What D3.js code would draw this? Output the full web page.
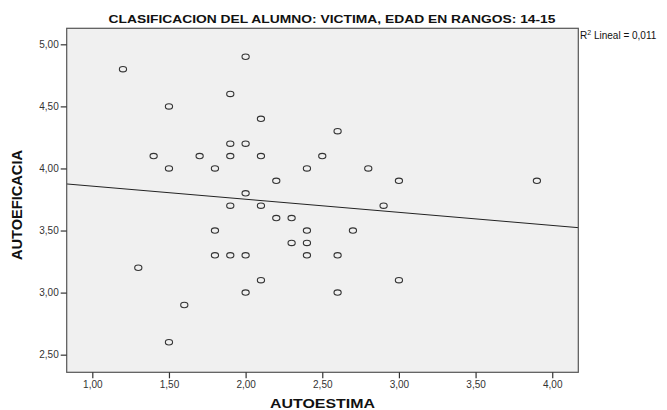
<!DOCTYPE html>
<html><head><meta charset="utf-8">
<script src="https://cdn.jsdelivr.net/npm/d3@7"></script>
<style>
html,body{margin:0;padding:0;background:#fff;}
text{font-family:"Liberation Sans",Arial,sans-serif;}
</style></head>
<body><svg id="c" width="667" height="410"></svg>
<script>
const autoestima = [1.2,2.0,1.9,1.5,2.1,2.6,1.9,2.0,1.4,1.7,1.9,2.1,2.5,1.5,1.8,2.4,2.8,2.2,3.0,3.9,2.0,1.9,2.1,2.9,2.2,2.3,1.8,2.4,2.7,2.3,2.4,1.8,1.9,2.0,2.4,2.6,1.3,2.1,3.0,2.0,2.6,1.6,1.5];
const autoeficacia = [4.8,4.9,4.6,4.5,4.4,4.3,4.2,4.2,4.1,4.1,4.1,4.1,4.1,4.0,4.0,4.0,4.0,3.9,3.9,3.9,3.8,3.7,3.7,3.7,3.6,3.6,3.5,3.5,3.5,3.4,3.4,3.3,3.3,3.3,3.3,3.3,3.2,3.1,3.1,3.0,3.0,2.9,2.6];
const xTicks = [1.0,1.5,2.0,2.5,3.0,3.5,4.0];
const yTicks = [2.5,3.0,3.5,4.0,4.5,5.0];
const fitLine = [3.963, -0.1055]; // intercept, slope
const xDomain = [0.833, 4.17];
const yDomain = [2.358, 5.129];
const titleText = "CLASIFICACION DEL ALUMNO: VICTIMA, EDAD EN RANGOS: 14-15";
const xTitle = "AUTOESTIMA", yTitle = "AUTOEFICACIA";
const r2Text = "0,011";

const svg = d3.select("#c");
const L=66.7, R=578.3, T=28.3, B=372.3;
const x = d3.scaleLinear().domain(xDomain).range([L,R]);
const y = d3.scaleLinear().domain(yDomain).range([B,T]);
const fmt = v => d3.format(".2f")(v).replace(".", ",");

svg.append("rect").attr("x",L).attr("y",T).attr("width",R-L).attr("height",B-T)
  .attr("fill","#f0f0f0");

const clip = svg.append("clipPath").attr("id","pc").append("rect")
  .attr("x",L).attr("y",T).attr("width",R-L).attr("height",B-T);

// regression line
svg.append("line").attr("clip-path","url(#pc)")
  .attr("x1",x(xDomain[0])).attr("y1",y(fitLine[0]+fitLine[1]*xDomain[0]))
  .attr("x2",x(xDomain[1])).attr("y2",y(fitLine[0]+fitLine[1]*xDomain[1]))
  .attr("stroke","#222").attr("stroke-width",1);

// points
svg.append("g").selectAll("ellipse").data(autoestima.map((d,i)=>[d,autoeficacia[i]]))
  .join("ellipse").attr("cx",d=>x(d[0])).attr("cy",d=>y(d[1]))
  .attr("rx",3.6).attr("ry",2.7).attr("fill","none").attr("stroke","#333").attr("stroke-width",1.1);

// frame
svg.append("rect").attr("x",L).attr("y",T).attr("width",R-L).attr("height",B-T)
  .attr("fill","none").attr("stroke","#555").attr("stroke-width",1.2);

// axes
const ax = svg.append("g").attr("transform",`translate(0,${B})`)
  .call(d3.axisBottom(x).tickValues(xTicks).tickFormat(fmt).tickSize(6).tickPadding(3));
const ay = svg.append("g").attr("transform",`translate(${L},0)`)
  .call(d3.axisLeft(y).tickValues(yTicks).tickFormat(fmt).tickSize(6).tickPadding(2));
[ax,ay].forEach(g=>{
  g.select(".domain").remove();
  g.selectAll(".tick line").attr("stroke","#333").attr("stroke-width",1.2);
  g.selectAll(".tick text").attr("fill","#333").style("font-size","10px");
});

// titles
svg.append("text").attr("x",332).attr("y",23).attr("text-anchor","middle")
  .attr("textLength",447).attr("lengthAdjust","spacingAndGlyphs")
  .style("font-size","11.5px").style("font-weight","bold").attr("fill","#111").text(titleText);
svg.append("text").attr("x",322.5).attr("y",408).attr("text-anchor","middle")
  .attr("textLength",105).attr("lengthAdjust","spacingAndGlyphs")
  .style("font-size","13px").style("font-weight","bold").attr("fill","#111").text(xTitle);
svg.append("text").attr("transform","translate(22,205) rotate(-90)").attr("text-anchor","middle")
  .attr("textLength",110).attr("lengthAdjust","spacingAndGlyphs")
  .style("font-size","14px").style("font-weight","bold").attr("fill","#111").text(yTitle);

const r2 = svg.append("text").attr("x",580).attr("y",39).style("font-size","10px").attr("fill","#111");
r2.append("tspan").text("R");
r2.append("tspan").attr("dy",-4).style("font-size","7px").text("2");
r2.append("tspan").attr("dy",4).text(" Lineal = " + r2Text);
</script></body></html>
